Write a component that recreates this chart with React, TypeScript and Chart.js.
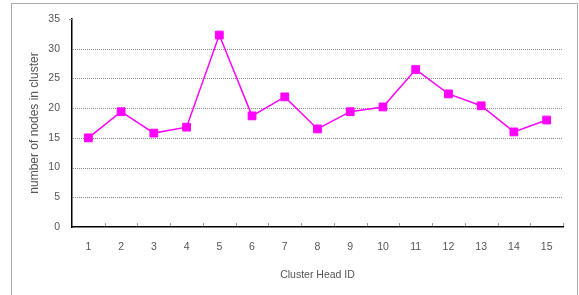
import React, { useEffect, useRef } from "react";
import { Chart, registerables } from "chart.js";

Chart.register(...registerables);

const categories = ["1", "2", "3", "4", "5", "6", "7", "8", "9", "10", "11", "12", "13", "14", "15"];
const nodesInCluster = [15, 19.4, 15.8, 16.8, 32.3, 18.7, 21.9, 16.5, 19.4, 20.2, 26.5, 22.4, 20.4, 16.0, 18.0];
const yMin = 0;
const yMax = 35;
const yStep = 5;
const xTitle = "Cluster Head ID";
const yTitle = "number of nodes in cluster";

const FONT = "'Liberation Sans', Arial, sans-serif";

const gridAndTicks = {
  id: "gridAndTicks",
  beforeDatasetsDraw(chart: any) {
    const { ctx, scales } = chart;
    const x = scales.x;
    const y = scales.y;
    ctx.save();
    ctx.strokeStyle = "#8a8a8a";
    ctx.lineWidth = 1;
    ctx.setLineDash([1, 1]);
    ctx.beginPath();
    for (const t of y.ticks) {
      if (t.value === yMin || t.value === yMax) continue;
      const py = Math.round(y.getPixelForValue(t.value)) + 0.5;
      ctx.moveTo(x.left + 1, py);
      ctx.lineTo(x.right, py);
    }
    ctx.stroke();
    ctx.restore();
  },
  afterDatasetsDraw(chart: any) {
    const { ctx, scales } = chart;
    const x = scales.x;
    const y = scales.y;
    const bottom = y.getPixelForValue(yMin);
    ctx.save();
    ctx.strokeStyle = "#999";
    ctx.lineWidth = 1;
    ctx.beginPath();
    for (let i = 1; i <= categories.length; i++) {
      const px = Math.round((x.getPixelForValue(i - 1) + x.getPixelForValue(i)) / 2) + 0.5;
      ctx.moveTo(px, bottom - 1);
      ctx.lineTo(px, bottom - 4);
    }
    const top = Math.round(y.getPixelForValue(yMax)) + 0.5;
    ctx.moveTo(x.left - 3, top);
    ctx.lineTo(x.left, top);
    ctx.stroke();
    ctx.restore();
  },
};

export default function App() {
  const ref = useRef<HTMLCanvasElement>(null);
  useEffect(() => {
    const chart = new Chart(ref.current!, {
      type: "line",
      data: {
        labels: categories,
        datasets: [
          {
            data: nodesInCluster,
            borderColor: "#ff00ff",
            backgroundColor: "#ff00ff",
            borderWidth: 1.5,
            pointStyle: "rect",
            pointRadius: 5.5,
            pointBorderWidth: 1,
            pointBorderColor: "#ff00ff",
            pointBackgroundColor: "#ff00ff",
            tension: 0,
          },
        ],
      },
      options: {
        animation: false,
        responsive: false,
        maintainAspectRatio: false,
        layout: { padding: { left: 0, top: 19, right: 16, bottom: 0 } },
        plugins: { legend: { display: false }, tooltip: { enabled: false } },
        scales: {
          x: {
            offset: true,
            grid: { display: false, drawTicks: false },
            border: { display: true, color: "#000", width: 1.5 },
            ticks: { color: "#555", font: { family: FONT, size: 10.5 }, padding: 14, maxRotation: 0 },
            title: {
              display: true,
              text: xTitle,
              color: "#555",
              font: { family: FONT, size: 10.5 },
              padding: { top: 0, bottom: 14 },
            },
            afterFit: (s: any) => {
              s.height = 68;
            },
          },
          y: {
            min: yMin,
            max: yMax,
            ticks: { stepSize: yStep, color: "#555", font: { family: FONT, size: 10.5 }, padding: 12 },
            grid: { display: false, drawTicks: false },
            border: { display: true, color: "#000", width: 1.5 },
            title: {
              display: true,
              text: yTitle,
              color: "#555",
              font: { family: FONT, size: 12 },
              padding: { top: 27, bottom: 0 },
            },
            afterFit: (s: any) => {
              s.width = 72;
            },
          },
        },
      },
      plugins: [gridAndTicks],
    });
    return () => chart.destroy();
  }, []);
  return (
    <div style={{ position: "fixed", left: 0, top: 0, width: 579, height: 295, overflow: "hidden", background: "#fff" }}>
      <div
        style={{
          position: "absolute",
          left: 11,
          top: 3,
          width: 565,
          height: 320,
          border: "1px solid #aaa",
        }}
      />
      <canvas ref={ref} width={579} height={295} style={{ position: "absolute", left: 0, top: 0 }} />
    </div>
  );
}
